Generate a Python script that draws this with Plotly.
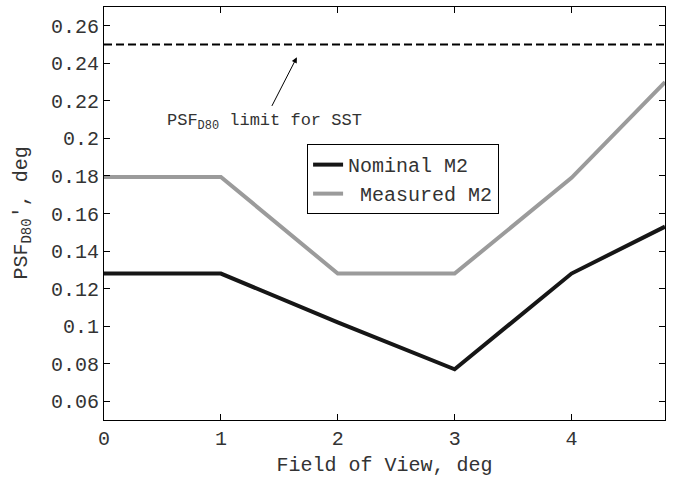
import plotly.graph_objects as go

# Field of view positions (deg)
fov = [0, 1, 2, 3, 4, 4.8]
# PSF D80 diameter (deg) for each mirror case
nominal_m2 = [0.128, 0.128, 0.102, 0.077, 0.128, 0.153]
measured_m2 = [0.1795, 0.1795, 0.128, 0.128, 0.179, 0.230]
sst_limit = 0.25

x_ticks = [0, 1, 2, 3, 4]
y_ticks = [0.06, 0.08, 0.10, 0.12, 0.14, 0.16, 0.18, 0.20, 0.22, 0.24, 0.26]
y_tick_text = ["0.06", "0.08", "0.1", "0.12", "0.14", "0.16", "0.18", "0.2", "0.22", "0.24", "0.26"]

FONT = "Liberation Mono, Courier New, monospace"
TXT = "#333333"

fig = go.Figure()
fig.add_trace(go.Scatter(x=fov, y=nominal_m2, mode="lines", name="Nominal M2",
                         line=dict(color="#161616", width=4)))
fig.add_trace(go.Scatter(x=fov, y=measured_m2, mode="lines", name=" Measured M2",
                         line=dict(color="#9b9b9b", width=4)))
fig.add_trace(go.Scatter(x=[fov[0], fov[-1]], y=[sst_limit, sst_limit], mode="lines",
                         showlegend=False, line=dict(color="black", width=2, dash="8px,4px")))

# arrow pointing at the limit line
fig.add_annotation(x=1.65, y=0.2432, ax=1.43, ay=0.2165, xref="x", yref="y",
                   axref="x", ayref="y", text="", showarrow=True,
                   arrowhead=2, arrowsize=1.1, arrowwidth=1, arrowcolor="black")
fig.add_annotation(x=1.37, y=0.209, xref="x", yref="y", showarrow=False,
                   text="PSF<sub>D80</sub> limit for SST",
                   font=dict(family=FONT, size=17, color=TXT))

# y-axis title placed as a rotated annotation
fig.add_annotation(x=-0.146, y=0.5, xref="paper", yref="paper", showarrow=False,
                   textangle=-90, xanchor="center", yanchor="middle",
                   text="PSF<sub>D80</sub>', deg",
                   font=dict(family=FONT, size=20, color=TXT))

axis_common = dict(showline=True, linecolor="black", linewidth=1, mirror="ticks",
                   ticks="inside", ticklen=6, tickcolor="black", showgrid=False,
                   zeroline=False, tickfont=dict(family=FONT, size=20, color=TXT))

fig.update_xaxes(range=[0, 4.8], tickvals=x_ticks,
                 title=dict(text="Field of View, deg", font=dict(family=FONT, size=20, color=TXT),
                            standoff=6),
                 **axis_common)
fig.update_yaxes(range=[0.05, 0.27], tickvals=y_ticks, ticktext=y_tick_text,
                 **axis_common)

fig.update_layout(
    width=673, height=477,
    margin=dict(l=104, r=8, t=6, b=46),
    paper_bgcolor="white", plot_bgcolor="white",
    font=dict(family=FONT, color=TXT),
    legend=dict(x=0.362, y=0.668, xanchor="left", yanchor="top",
                bgcolor="white", bordercolor="black", borderwidth=1,
                font=dict(family=FONT, size=20, color=TXT),
                itemwidth=30, tracegroupgap=0),
)

fig.write_html("out.html")
